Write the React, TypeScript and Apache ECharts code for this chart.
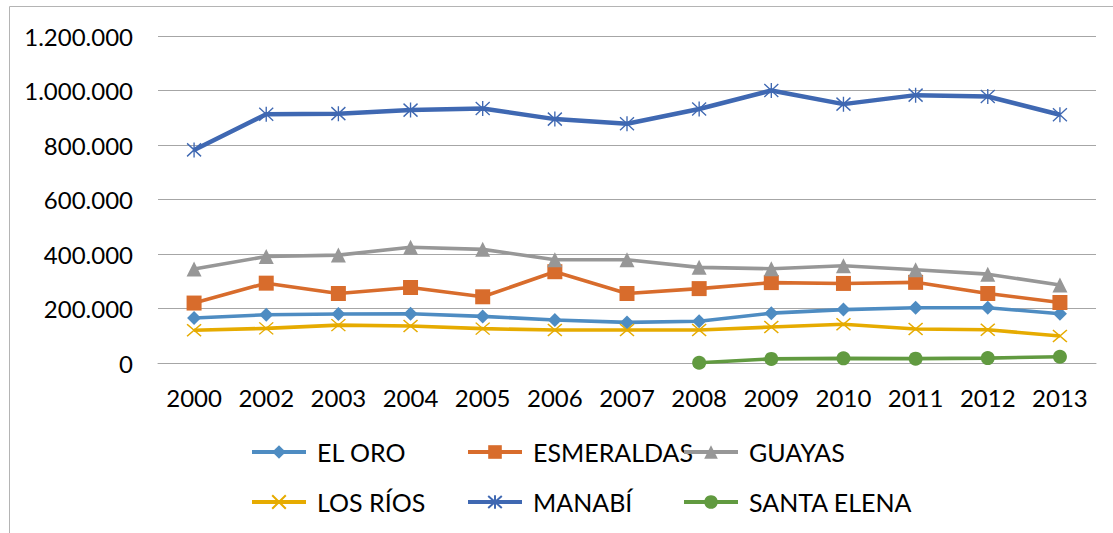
import React, { useEffect, useRef } from "react";
import * as echarts from "echarts";

const years = ["2000", "2002", "2003", "2004", "2005", "2006", "2007", "2008", "2009", "2010", "2011", "2012", "2013"];
const elOro = [165000, 177000, 180000, 181000, 171000, 158000, 149000, 153000, 183000, 196000, 203000, 203000, 181000];
const esmeraldas = [220000, 293000, 255000, 277000, 243000, 335000, 255000, 273000, 295000, 292000, 296000, 255000, 222000];
const guayas = [345000, 391000, 396000, 425000, 417000, 379000, 379000, 351000, 346000, 357000, 342000, 326000, 286000];
const losRios = [120000, 127000, 139000, 136000, 126000, 121000, 121000, 121000, 132000, 142000, 125000, 122000, 99000];
const manabi = [782000, 913000, 915000, 928000, 934000, 895000, 878000, 932000, 1000000, 950000, 983000, 978000, 911000];
const santaElena = [null, null, null, null, null, null, null, 1000, 15000, 17000, 16000, 18000, 23000];
const yTicks = { min: 0, max: 1200000, interval: 200000 };

const FONT = "Lato";
const X_PATH = "path://M0 0L12 10M12 0L0 10";
const STAR_PATH = "path://M0 1L14 14M14 1L0 14M7 0L7 15";

function fmt(v: number): string {
  return String(v).replace(/\B(?=(\d{3})+(?!\d))/g, ".");
}

function solidSeries(name: string, data: (number | null)[], color: string, symbol: string, size: number | number[], width = 3.6) {
  return {
    name,
    type: "line",
    data,
    symbol,
    symbolSize: size,
    showSymbol: true,
    lineStyle: { color, width },
    itemStyle: { color, borderWidth: 0 },
    emphasis: { disabled: true },
  };
}

function strokeSeries(name: string, data: (number | null)[], color: string, symbol: string, size: number[], width = 3.6) {
  return {
    name,
    type: "line",
    data,
    symbol,
    symbolSize: size,
    showSymbol: true,
    lineStyle: { color, width },
    itemStyle: { color, borderColor: color, borderWidth: 1.4 },
    emphasis: { disabled: true },
  };
}

function legendAt(name: string, left: number, top: number) {
  return {
    data: [name],
    left,
    top,
    itemWidth: 54,
    itemHeight: 17,
    selectedMode: false,
    lineStyle: { width: 4 },
    textStyle: {
      fontFamily: FONT,
      fontSize: 25,
      color: "#000",
      lineHeight: 30,
      padding: [0, 0, 0, 6],
    },
  };
}

export default function App() {
  const ref = useRef<HTMLDivElement>(null);
  useEffect(() => {
    if (!ref.current) return;
    const chart = echarts.init(ref.current, null, { renderer: "svg" });
    chart.setOption({
      animation: false,
      backgroundColor: "#fff",
      grid: { left: 158, right: 17, top: 36, bottom: 170 },
      xAxis: {
        type: "category",
        data: years,
        boundaryGap: true,
        axisLine: { show: true, lineStyle: { color: "#a6a6a6", width: 1 } },
        axisTick: { show: false },
        axisLabel: { interval: 0, fontFamily: FONT, fontSize: 24, color: "#000", margin: 22 },
      },
      yAxis: {
        type: "value",
        min: yTicks.min,
        max: yTicks.max,
        interval: yTicks.interval,
        axisLine: { show: false },
        axisTick: { show: false },
        splitLine: { lineStyle: { color: "#a6a6a6", width: 1 } },
        axisLabel: {
          fontFamily: FONT,
          fontSize: 24,
          color: "#000",
          margin: 25,
          formatter: (v: number) => fmt(v),
        },
      },
      legend: [
        legendAt("EL ORO", 245, 432),
        legendAt("ESMERALDAS", 461, 432),
        legendAt("GUAYAS", 677, 432),
        legendAt("LOS RÍOS", 245, 482),
        legendAt("MANABÍ", 461, 482),
        legendAt("SANTA ELENA", 677, 482),
      ],
      graphic: [
        {
          type: "rect",
          shape: { x: 9.5, y: 6.5, width: 1300, height: 700 },
          style: { fill: "none", stroke: "#b4b4b4", lineWidth: 1 },
          silent: true,
          z: -1,
        },
      ],
      series: [
        solidSeries("EL ORO", elOro, "#4e8cc2", "diamond", 14),
        solidSeries("ESMERALDAS", esmeraldas, "#d86c2c", "rect", 15),
        solidSeries("GUAYAS", guayas, "#979797", "triangle", 15),
        strokeSeries("LOS RÍOS", losRios, "#e6ab00", X_PATH, [14, 12]),
        strokeSeries("MANABÍ", manabi, "#3f68b2", STAR_PATH, [14, 15], 4.5),
        solidSeries("SANTA ELENA", santaElena, "#619a40", "circle", 14),
      ],
    });
    return () => chart.dispose();
  }, []);
  return (
    <div
      ref={ref}
      style={{ position: "fixed", left: 0, top: 0, width: 1113, height: 533, background: "#fff" }}
    />
  );
}
